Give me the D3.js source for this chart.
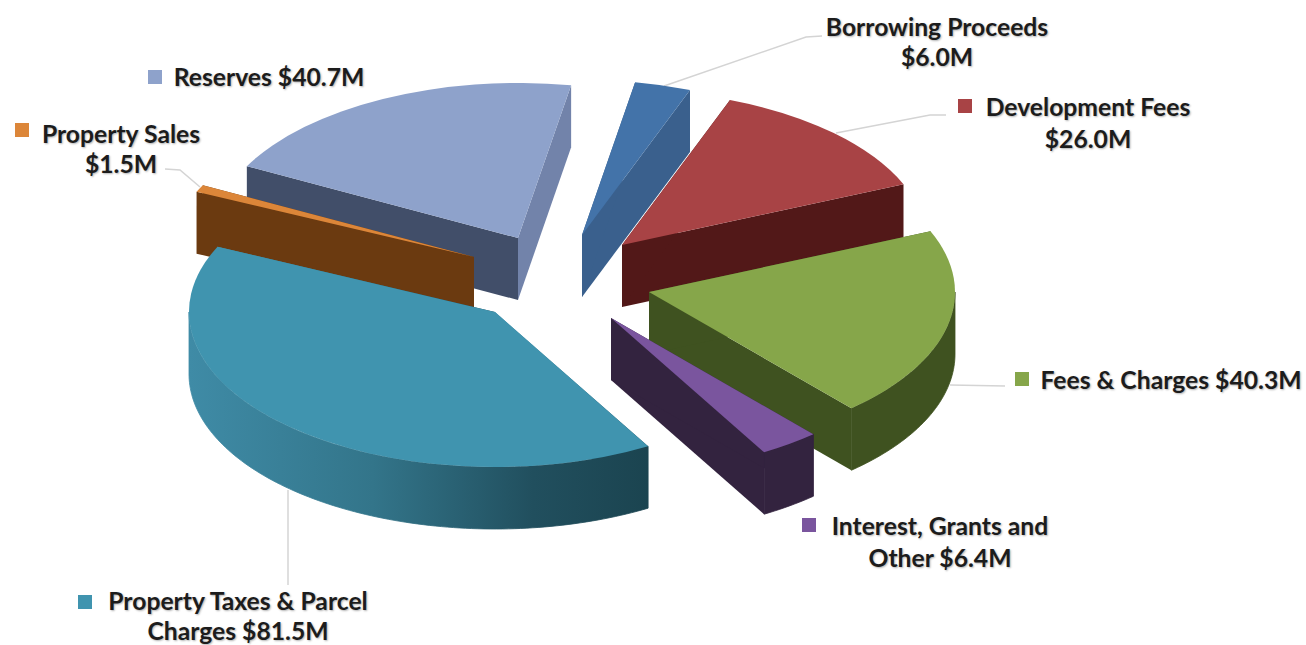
<!DOCTYPE html>
<html>
<head>
<meta charset="utf-8">
<script src="https://cdn.jsdelivr.net/npm/d3@7/dist/d3.min.js"></script>
<style>
  html, body { margin: 0; background: #fff; }
  svg { display: block; }
  text { font-family: Lato, "Open Sans", sans-serif; font-weight: 700; font-size: 24.7px; fill: #1c1c1c;
         text-shadow: 1px 1px 2px rgba(0,0,0,.3); }
</style>
</head>
<body>
<svg id="chart" width="1306" height="645"></svg>
<script>
// Revenue sources, clockwise from the first slice ($ millions)
const categories = ["Borrowing Proceeds", "Development Fees", "Fees & Charges", "Interest, Grants and Other",
                    "Property Taxes & Parcel Charges", "Property Sales", "Reserves"];
const amounts = [6.0, 26.0, 40.3, 6.4, 81.5, 1.5, 40.7];

// Palette per slice
const topColors  = ["#4373a9", "#a84345", "#86a64a", "#7a559e", "#4094af", "#dc8639", "#8ea2cb"];
const wallColors = ["#3a608d", "#521818", "#3f5220", "#33233f", "url(#taxWall)", "#6b3a10", "#414e69"];
const endWallColors = [null, null, null, null, null, null, "#7283aa"];

// Explosion offset of every slice on screen, away from the shared pie centre
const pullX = [17, 57, 84, 46, -70, -91, -47];
const pullY = [-45, -35, 12, 38, 32, -23, -42];

// Pie projection
const centre = { x: 565, y: 280 };
const radiusX = 306, radiusY = 155, thickness = 62;

// Back-to-front painting order of the slices
const paintOrder = [6, 0, 1, 5, 2, 4, 3];

// Label blocks: text lines, anchor, colour-key position
const labelLines = [
  ["Borrowing Proceeds", "$6.0M"], ["Development Fees", "$26.0M"], ["Fees & Charges $40.3M"],
  ["Interest, Grants and", "Other $6.4M"], ["Property Taxes & Parcel", "Charges $81.5M"],
  ["Property Sales", "$1.5M"], ["Reserves $40.7M"]
];
const labelX = [937, 1088, 1171, 940, 238, 121, 269];
const labelY = [36, 116, 389, 535, 610, 143, 86];
const lineStep = [30, 32, 0, 32, 30, 30, 0];
const keyX = [null, 958, 1015, 802, 78, 15, 148];
const keyY = [null, 99, 372, 518, 595, 123, 70];

// Leader lines from slices to labels
const leaders = [
  [[664, 86], [806, 37], [822, 36]],
  [[836, 133], [930, 115], [946, 115]],
  [[950, 385], [1005, 386]],
  [[288, 490], [288, 585]],
  [[200, 187], [180, 170], [165, 169]]
];

const svg = d3.select("#chart");

const gradient = svg.append("defs").append("linearGradient").attr("id", "taxWall");
[[0, "#3f8ba6"], [0.4, "#33758a"], [0.75, "#214f5e"], [1, "#1b4450"]].forEach(([o, c]) =>
  gradient.append("stop").attr("offset", o).attr("stop-color", c));

const pie = d3.pie().sort(null).startAngle(10 * Math.PI / 180).endAngle(370 * Math.PI / 180);
const slices = pie(amounts);
const topArc = d3.arc().innerRadius(0).outerRadius(radiusX);
const outline = d3.line();

// Screen point on a slice rim; angle is d3's (clockwise from 12 o'clock)
const rim = (apex, a, drop = 0) => [
  apex.x + radiusX * Math.sin(a),
  apex.y - radiusY * Math.cos(a) + drop
];

const leaderGroup = svg.append("g");
leaders.forEach(pts => leaderGroup.append("path")
  .attr("d", outline(pts)).attr("fill", "none").attr("stroke", "#d4d4d4").attr("stroke-width", 1.5));

const pieGroup = svg.append("g");
paintOrder.forEach(i => {
  const s = slices[i];
  const apex = { x: centre.x + pullX[i], y: centre.y + pullY[i] };
  const g = pieGroup.append("g");

  // Radial walls along both straight edges
  const startA = rim(apex, s.startAngle), endA = rim(apex, s.endAngle);
  const base = [apex.x, apex.y];
  const drop = p => [p[0], p[1] + thickness];
  g.append("path")
    .attr("d", outline([base, endA, drop(endA), drop(base)]) + "Z")
    .attr("fill", endWallColors[i] || wallColors[i]);
  g.append("path")
    .attr("d", outline([base, startA, drop(startA), drop(base)]) + "Z")
    .attr("fill", wallColors[i]);

  // Outer wall, only where the rim faces the viewer (90deg to 270deg)
  const from = Math.max(s.startAngle, Math.PI / 2), to = Math.min(s.endAngle, 3 * Math.PI / 2);
  if (to > from) {
    const steps = d3.range(from, to, 0.02).concat([to]);
    const upper = steps.map(a => rim(apex, a));
    const lower = steps.map(a => rim(apex, a, thickness)).reverse();
    g.append("path").attr("d", outline(upper.concat(lower)) + "Z")
      .attr("fill", wallColors[i]).attr("stroke", wallColors[i]).attr("stroke-width", 0.8);
  }

  // Top face: a d3 arc squashed into the ellipse
  g.append("path")
    .attr("transform", `translate(${apex.x},${apex.y}) scale(1,${radiusY / radiusX})`)
    .attr("d", topArc(s))
    .attr("fill", topColors[i]);
});

// Labels and colour keys
const labels = svg.append("g");
categories.forEach((name, i) => {
  if (keyX[i] !== null) {
    labels.append("rect").attr("x", keyX[i]).attr("y", keyY[i]).attr("width", 14).attr("height", 14)
      .attr("fill", topColors[i]);
  }
  labelLines[i].forEach((line, k) => {
    labels.append("text").attr("x", labelX[i]).attr("y", labelY[i] + k * lineStep[i])
      .attr("text-anchor", "middle").text(line);
  });
});
</script>
</body>
</html>
